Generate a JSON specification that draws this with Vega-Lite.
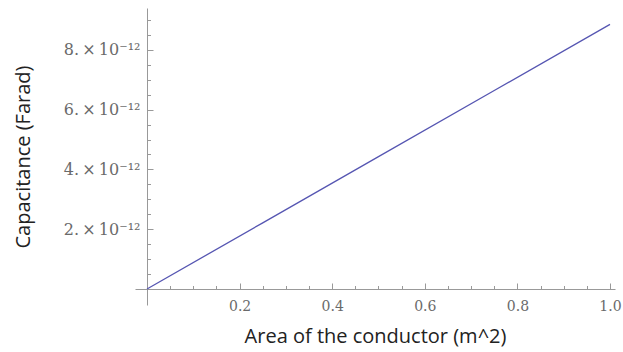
{
  "$schema": "https://vega.github.io/schema/vega-lite/v6.json",
  "autosize": "none",
  "width": 480,
  "height": 297,
  "padding": {"left": 135, "top": 8, "right": 8, "bottom": 47},
  "background": "white",
  "config": {"view": {"stroke": null}},
  "data": {"values": [
    {"area": 0, "capacitance": 0},
    {"area": 0.25, "capacitance": 2.2135e-12},
    {"area": 0.5, "capacitance": 4.427e-12},
    {"area": 0.75, "capacitance": 6.6405e-12},
    {"area": 1.0, "capacitance": 8.854e-12}
  ]},
  "mark": {"type": "line", "color": "#5656b2", "strokeWidth": 1.3},
  "encoding": {
    "x": {
      "field": "area", "type": "quantitative",
      "scale": {"domain": [-0.0259, 1.0108], "nice": false, "zero": false},
      "axis": {
        "orient": "bottom", "offset": -16, "grid": false,
        "values": [0.05,0.1,0.15,0.2,0.25,0.3,0.35,0.4,0.45,0.5,0.55,0.6,0.65,0.7,0.75,0.8,0.85,0.9,0.95,1.0],
        "domainColor": "#999999", "domainWidth": 1,
        "tickColor": "#999999", "tickWidth": 1,
        "tickSize": {"condition": {"test": "abs(datum.value*5 - round(datum.value*5)) < 0.001", "value": -6}, "value": -3.5},
        "labelExpr": "abs(datum.value*5 - round(datum.value*5)) < 0.001 ? format(datum.value, '.1f') : ''",
        "labelFont": "DejaVu Serif", "labelFontSize": 14, "labelColor": "#6a6a6a",
        "labelPadding": 16, "labelFlush": false, "labelOverlap": false,
        "title": "Area of the conductor (m^2)",
        "titleFont": "Open Sans", "titleFontSize": 20, "titleFontWeight": "normal", "titleColor": "#222222",
        "titlePadding": 11
      }
    },
    "y": {
      "field": "capacitance", "type": "quantitative",
      "scale": {"domain": [-0.535e-12, 9.4e-12], "nice": false, "zero": false},
      "axis": {
        "orient": "left", "offset": -12, "grid": false,
        "values": [0.5e-12,1e-12,1.5e-12,2e-12,2.5e-12,3e-12,3.5e-12,4e-12,4.5e-12,5e-12,5.5e-12,6e-12,6.5e-12,7e-12,7.5e-12,8e-12,8.5e-12,9e-12],
        "domainColor": "#999999", "domainWidth": 1,
        "tickColor": "#999999", "tickWidth": 1,
        "tickSize": {"condition": {"test": "abs(datum.value/2e-12 - round(datum.value/2e-12)) < 0.001", "value": -6}, "value": -3.5},
        "labelExpr": "abs(datum.value/2e-12 - round(datum.value/2e-12)) < 0.001 ? format(datum.value/1e-12, 'd') + '.\u2009×\u200910⁻¹²' : ''",
        "labelFont": "DejaVu Serif", "labelFontSize": 16, "labelColor": "#6a6a6a",
        "labelPadding": 13, "labelFlush": false, "labelOverlap": false,
        "title": "Capacitance (Farad)",
        "titleFont": "Open Sans", "titleFontSize": 20, "titleFontWeight": "normal", "titleColor": "#222222",
        "titlePadding": 30
      }
    }
  }
}
